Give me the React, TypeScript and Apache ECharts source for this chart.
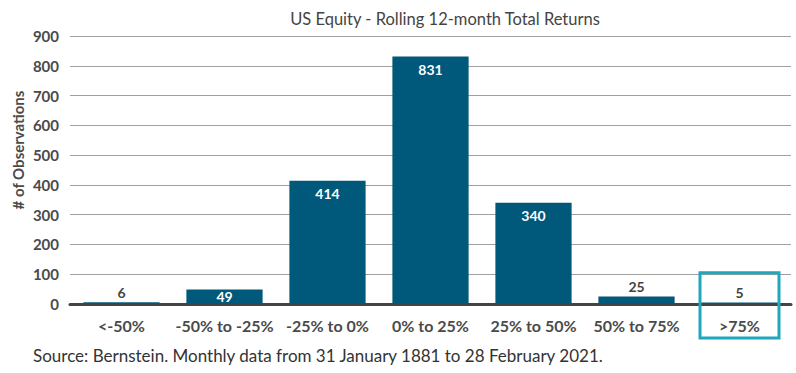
import React, { useEffect, useRef } from "react";
import * as echarts from "echarts";

const categories = ["<-50%", "-50% to -25%", "-25% to 0%", "0% to 25%", "25% to 50%", "50% to 75%", ">75%"];
const observations = [6, 49, 414, 831, 340, 25, 5];
const yTicks = { min: 0, max: 900, interval: 100 };
const highlighted = ">75%";

export default function App() {
  const ref = useRef<HTMLDivElement>(null);
  useEffect(() => {
    document.body.style.margin = "0";
    const chart = echarts.init(ref.current!, null, { renderer: "svg" });
    const font = "Lato";
    const labelBase = { show: true, fontWeight: "bold", fontFamily: font, fontSize: 14 };
    chart.setOption({
      animation: false,
      title: {
        text: "US Equity - Rolling 12-month Total Returns",
        left: 440,
        textAlign: "center",
        top: 5,
        textStyle: { fontFamily: font, fontSize: 16.5, fontWeight: "normal", color: "#444" },
      },
      grid: { left: 70, right: 5, top: 36, bottom: 69 },
      xAxis: {
        type: "category",
        data: categories,
        axisTick: { show: false },
        axisLine: { lineStyle: { color: "#444", width: 3 } },
        axisLabel: { interval: 0, fontFamily: font, fontWeight: "bold", fontSize: 16, color: "#4a4a4a", margin: 13 },
      },
      yAxis: {
        type: "value",
        min: yTicks.min,
        max: yTicks.max,
        interval: yTicks.interval,
        axisLabel: { fontFamily: font, fontWeight: "bold", fontSize: 15, color: "#4a4a4a", margin: 11 },
        splitLine: { lineStyle: { color: "#a0a0a0", width: 1 } },
        axisLine: { show: false },
        axisTick: { show: false },
      },
      series: [
        {
          type: "bar",
          barCategoryGap: "26%",
          itemStyle: { color: "#00587a" },
          data: observations.map((v) => ({
            value: v,
            label:
              v > 100
                ? { ...labelBase, position: "insideTop", distance: 6, color: "#fff" }
                : v > 40
                ? { ...labelBase, position: "inside", color: "#fff" }
                : { ...labelBase, position: "top", distance: 3, color: "#444" },
          })),
        },
      ],
    });
    const cx = chart.convertToPixel({ xAxisIndex: 0 }, highlighted) as number;
    const yTop = chart.convertToPixel({ yAxisIndex: 0 }, 105) as number;
    chart.setOption({
      graphic: [
        {
          type: "rect",
          shape: { x: cx - 39.5, y: yTop, width: 79, height: 338 - yTop },
          style: { fill: "none", stroke: "#1fa8bd", lineWidth: 3 },
          z: 100,
        },
        {
          type: "text",
          x: 18,
          y: 150,
          rotation: Math.PI / 2,
          style: {
            text: "# of Observations",
            fontFamily: font,
            fontWeight: "bold",
            fontSize: 15,
            fill: "#4a4a4a",
            align: "center",
            verticalAlign: "middle",
          },
        },
        {
          type: "text",
          left: 33,
          top: 347,
          style: {
            text: "Source: Bernstein. Monthly data from 31 January 1881 to 28 February 2021.",
            fontFamily: font,
            fontSize: 17,
            fill: "#333",
          },
        },
      ],
    });
    return () => chart.dispose();
  }, []);
  return <div ref={ref} style={{ width: 796, height: 373 }} />;
}
